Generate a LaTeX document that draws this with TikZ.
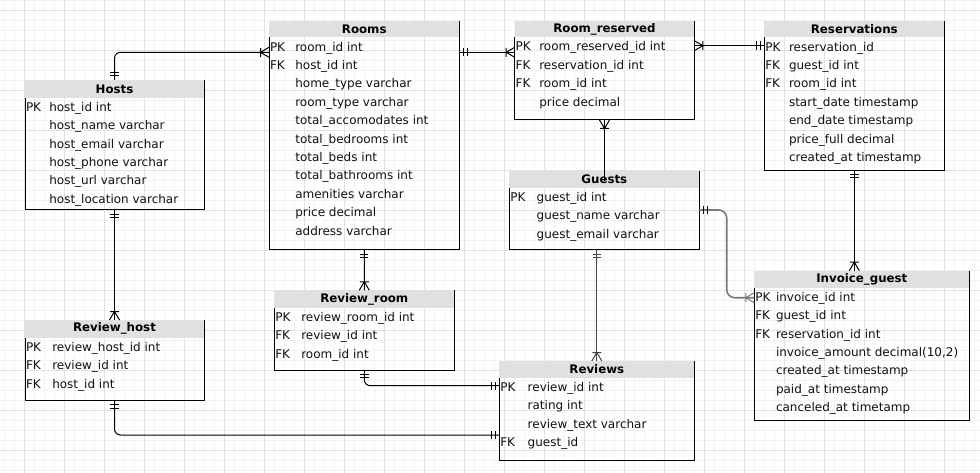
\documentclass[tikz,border=0pt]{standalone}
\usepackage{fontspec}
\setmainfont{DejaVu Sans}
\definecolor{hdr}{HTML}{E0E0E0}
\definecolor{txt}{HTML}{111111}
\definecolor{gridA}{HTML}{F3F3F3}
\definecolor{gridB}{HTML}{E2E2E2}
\definecolor{lgray}{HTML}{7A7A7A}
\definecolor{dgray}{HTML}{444444}
\newcommand\ertable[9]{%
  \node[tframe, minimum width={(#4-#2)*1pt}, minimum height={(#6-#3)*1pt}] (#1) at (#2,#3) {};
  \node[thead, minimum width={(#4-#2)*1pt}, minimum height={(#5-#3)*1pt}] (#1-h) at (#2,#3) {#7};
  \draw[tborder] (#1-h.north east) -- (#1.south east) -- (#1.south west) -- (#1-h.south west);
  \node[tbody] (#1-t) at (#2+1,#5+0.7) {\begin{tabular}{@{}p{#8pt}@{}l@{}}#9\end{tabular}};
}
\newcommand\ermone[3][]{%
  \begin{scope}[shift={(#2)},rotate=#3]
    \draw[ermark,#1] (4.3,-4.2) -- (4.3,4.2) (7.7,-4.2) -- (7.7,4.2);
  \end{scope}}
\newcommand\ermany[3][]{%
  \begin{scope}[shift={(#2)},rotate=#3]
    \draw[ermark,#1] (0,-5) -- (8.5,0) -- (0,5) (8.5,-4.5) -- (8.5,4.5);
  \end{scope}}
\begin{document}
\begin{tikzpicture}[x=1pt,y=-1pt,
  tframe/.style={anchor=north west, inner sep=0pt, outer sep=0pt, rectangle},
  thead/.style={anchor=north west, inner sep=0pt, outer sep=0pt, rectangle, fill=hdr,
    font=\fontsize{11.8}{14}\selectfont\bfseries, text=black},
  tbody/.style={anchor=north west, inner sep=0pt, outer sep=0pt,
    font=\fontsize{12}{18.4}\selectfont, text=txt},
  tborder/.style={line width=1pt, black},
  conn/.style={line width=1pt, black},
  conngray/.style={line width=1.6pt, lgray},
  conndark/.style={line width=1.1pt, dgray},
  ermark/.style={line width=1pt, black},
  gridminor/.style={line width=0.6pt, gridA},
  gridmajor/.style={line width=0.8pt, gridB}]
\useasboundingbox (0,0) rectangle (980,473);
\fill[white] (0,0) rectangle (980,473);
% background grid
\foreach \x in {4.3,14.3,...,980} \draw[gridminor] (\x,0) -- (\x,473);
\foreach \y in {0,10,...,470} \draw[gridminor] (0,\y) -- (980,\y);
\foreach \x in {24.3,64.3,...,980} \draw[gridmajor] (\x,0) -- (\x,473);
\foreach \y in {10,50,...,470} \draw[gridmajor] (0,\y) -- (980,\y);

% tables: name, L, T, R, H, B, title, first column width, rows
\ertable{hosts}{25}{80}{204}{97.7}{210}{Hosts}{23.3}{%
PK & host\_id int\\ & host\_name varchar\\ & host\_email varchar\\ & host\_phone varchar\\ & host\_url varchar\\ & host\_location varchar}
\ertable{rooms}{269}{20.7}{459.5}{37.5}{250}{Rooms}{25.3}{%
PK & room\_id int\\ FK & host\_id int\\ & home\_type varchar\\ & room\_type varchar\\ & total\_accomodates int\\ & total\_bedrooms int\\ & total\_beds int\\ & total\_bathrooms int\\ & amenities varchar\\ & price decimal\\ & address varchar}
\ertable{rres}{514.7}{20.7}{694.3}{37.3}{120}{Room\_reserved}{23.6}{%
PK & room\_reserved\_id int\\ FK & reservation\_id int\\ FK & room\_id int\\ & price decimal}
\ertable{resv}{764.3}{20.7}{944.3}{37.5}{170.3}{Reservations}{23.7}{%
PK & reservation\_id\\ FK & guest\_id int\\ FK & room\_id int\\ & start\_date timestamp\\ & end\_date timestamp\\ & price\_full decimal\\ & created\_at timestamp}
\ertable{guests}{509.3}{170.7}{699.3}{187.7}{250}{Guests}{26.4}{%
PK & guest\_id int\\ & guest\_name varchar\\ & guest\_email varchar}
\ertable{rhost}{25}{320}{204}{337.7}{400.3}{Review\_host}{26.3}{%
PK & review\_host\_id int\\ FK & review\_id int\\ FK & host\_id int}
\ertable{rroom}{274.3}{290.3}{454.3}{307.7}{370}{Review\_room}{26}{%
PK & review\_room\_id int\\ FK & review\_id int\\ FK & room\_id int}
\ertable{reviews}{499.3}{361}{694.3}{377.7}{460.3}{Reviews}{27.4}{%
PK & review\_id int\\ & rating int\\ & review\_text varchar\\ FK & guest\_id}
\ertable{inv}{754.3}{270.7}{969.3}{287.7}{420.3}{Invoice\_guest}{20.7}{%
PK & invoice\_id int\\ FK & guest\_id int\\ FK & reservation\_id int\\ & invoice\_amount decimal(10,2)\\ & created\_at timestamp\\ & paid\_at timestamp\\ & canceled\_at timetamp}

% connectors
\coordinate (gend) at ([yshift=-10.3pt]guests.north);
\draw[conn, rounded corners=6pt] (hosts.north) -- (hosts.north |- 0,52.3) -- (rooms.west |- 0,52.3);
\draw[conn] (rooms.east |- 0,52.3) -- (rres.west |- 0,52.3);
\draw[conn] (rres.east |- 0,45.7) -- (resv.west |- 0,45.7);
\draw[conn] (rres.south) -- (rres.south |- gend);
\draw[conn] (resv.south) -- (resv.south |- inv.north);
\draw[conngray, rounded corners=8pt] (guests.east |- 0,210) -- (726.7,210) -- (726.7,297.7) -- (inv.west |- 0,297.7);
\draw[conndark] (reviews.north |- guests.south) -- (reviews.north);
\draw[conn] (hosts.south) -- (rhost.north);
\draw[conn] (rooms.south) -- (rroom.north);
\draw[conn, rounded corners=6pt] (rroom.south) -- (rroom.south |- 0,385.7) -- (reviews.west |- 0,385.7);
\draw[conn, rounded corners=6pt] (rhost.south) -- (rhost.south |- 0,435) -- (reviews.west |- 0,435);

% cardinality marks
\ermone{hosts.north}{90}
\ermany{rooms.west |- 0,52.3}{180}
\ermone{rooms.east |- 0,52.3}{0}
\ermany{rres.west |- 0,52.3}{180}
\ermany{rres.east |- 0,45.7}{0}
\ermone{resv.west |- 0,45.7}{180}
\ermany{rres.south}{270}
\ermone{resv.south}{270}
\ermany{resv.south |- inv.north}{90}
\ermone{guests.east |- 0,210}{0}
\ermany[lgray]{inv.west |- 0,297.7}{180}
\ermone[dgray]{reviews.north |- guests.south}{270}
\ermany[dgray]{reviews.north}{90}
\ermone{hosts.south}{270}
\ermany{rhost.north}{90}
\ermone{rooms.south}{270}
\ermany{rroom.north}{90}
\ermone{rroom.south}{270}
\ermone{reviews.west |- 0,385.7}{180}
\ermone{rhost.south}{270}
\ermone{reviews.west |- 0,435}{180}
\end{tikzpicture}
\end{document}
